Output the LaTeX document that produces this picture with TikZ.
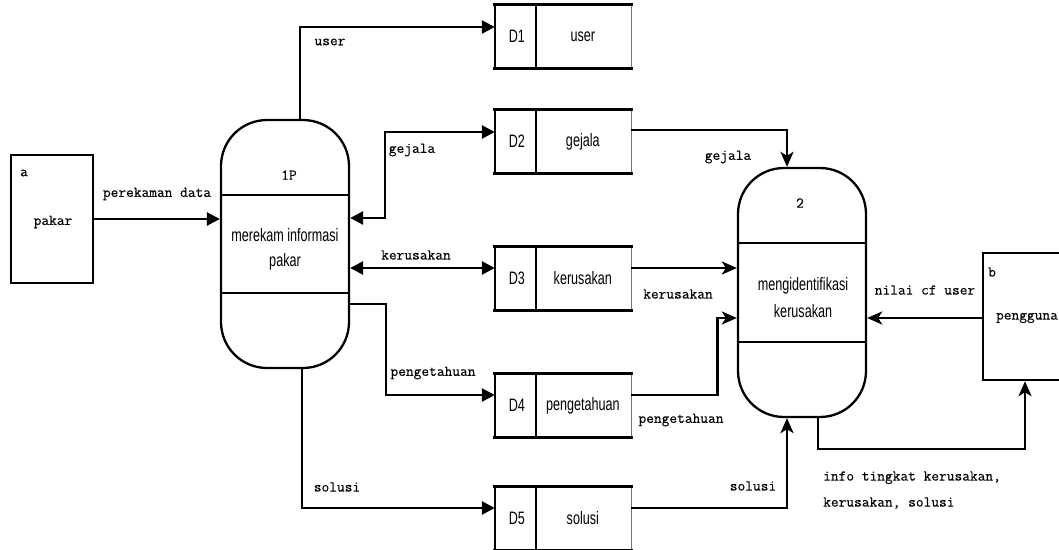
\documentclass[tikz,border=0pt]{standalone}
\usepackage{fontspec}
\setmainfont{Liberation Sans}
\newfontfamily\flowfont[FakeBold=0.3]{Latin Modern Mono}
\newfontfamily\boxfont[FakeStretch=0.7]{Liberation Sans}
\usetikzlibrary{arrows.meta,calc}

\tikzset{
  flow/.style={line width=2.6pt, draw=black},
  tri/.style={-{Triangle[length=13pt,width=13pt]}},
  tritri/.style={{Triangle[length=13pt,width=13pt]}-{Triangle[length=13pt,width=13pt]}},
  stl/.style={-{Stealth[length=15pt,width=13pt,inset=4pt]}},
  lbl/.style={font=\flowfont\fontsize{15}{26}\selectfont, inner sep=0pt},
  txt/.style={font=\boxfont\fontsize{18}{25}\selectfont, inner sep=0pt, align=center},
  proc/.style={draw, line width=2.3pt, rounded corners=46pt, minimum width=128pt, inner sep=0pt},
  entity/.style={draw, line width=2.4pt, inner sep=0pt},
  storebox/.style={draw=none, minimum width=136pt, minimum height=63pt, inner sep=0pt},
  storeedge/.style={line width=2.8pt, line cap=rect},
  storeside/.style={line width=1.8pt},
  storeback/.style={line width=0.8pt, draw=black!55},
  storesplit/.style={line width=1.4pt},
  procline/.style={line width=2.3pt},
}

% data store: name, x, y, id, title
\newcommand\dfdstore[5]{%
  \node[storebox] (#1) at (#2,#3) {};
  \draw[storeback] (#1.north east) -- (#1.south east);
  \draw[storeside] (#1.north west) -- (#1.south west);
  \draw[storeedge] (#1.north west) -- (#1.north east);
  \draw[storeedge] (#1.south west) -- (#1.south east);
  \draw[storesplit] ($(#1.north west)+(41,0)$) -- ($(#1.south west)+(41,0)$);
  \node[txt] at ($(#1.west)+(22,0)$) {#4};
  \node[txt] at ($(#1.west)+(88,0)$) {#5};
}

\begin{document}
\begin{tikzpicture}[x=1pt,y=-1pt]
\useasboundingbox (0,0) rectangle (1059,549);

% external entities
\node[entity, minimum width=82pt, minimum height=128pt] (a) at (52,219) {};
\node[lbl] at (24,173) {a};
\node[lbl] at (53,222) {pakar};

\node[entity, minimum width=88pt, minimum height=127pt] (b) at (1027,316.5) {};
\node[lbl] at (992,272) {b};
\node[lbl] at (1027,318) {pengguna};

% processes
\node[proc, minimum height=248pt] (p1) at (285,244) {};
\draw[procline] (p1.west |- 0,195) -- (p1.east |- 0,195);
\draw[procline] (p1.west |- 0,293) -- (p1.east |- 0,293);
\node[lbl] at (289,175) {1P};
\node[txt] at (285,249) {merekam informasi\\pakar};

\node[proc, minimum height=249pt] (p2) at (802,292.5) {};
\draw[procline] (p2.west |- 0,243) -- (p2.east |- 0,243);
\draw[procline] (p2.west |- 0,342) -- (p2.east |- 0,342);
\node[lbl] at (800,203) {2};
\node[txt, font=\boxfont\fontsize{18}{27}\selectfont] at (803,298) {mengidentifikasi\\kerusakan};

% data stores
\dfdstore{d1}{563}{36.5}{D1}{user}
\dfdstore{d2}{563}{141.5}{D2}{gejala}
\dfdstore{d3}{563}{278.5}{D3}{kerusakan}
\dfdstore{d4}{563}{405.5}{D4}{pengetahuan}
\dfdstore{d5}{563}{518.5}{D5}{solusi}

% flows of process 1
\draw[flow,tri] (a.east) -- (a.east -| p1.west);
\node[lbl] at (157,194) {perekaman data};

\draw[flow,tri] ([xshift=15pt]p1.north) |- ([yshift=9.5pt]d1.west);
\node[lbl] at (330,42) {user};

\draw[flow,tritri] ([yshift=26pt]p1.east) -- ++(35,0) |- ([yshift=9.5pt]d2.west);
\node[lbl] at (412,150) {gejala};

\draw[flow,tritri] ([yshift=-24pt]p1.east) -- ([yshift=10.5pt]d3.west);
\node[lbl] at (416,255) {kerusakan};

\draw[flow,tri] ([yshift=-60pt]p1.east) -- ++(36,0) |- ([yshift=10.5pt]d4.west);
\node[lbl] at (433,373) {pengetahuan};

\draw[flow,tri] ([xshift=17pt]p1.south) |- ([yshift=10.5pt]d5.west);
\node[lbl] at (337,487) {solusi};

% flows of process 2
\draw[flow,stl] ([yshift=11.5pt]d2.east) -| ([xshift=-15pt]p2.north);
\node[lbl] at (728,157) {gejala};

\draw[flow,stl] ([yshift=10.5pt]d3.east) -- ([yshift=24.5pt]p2.west);
\node[lbl] at (678,294) {kerusakan};

\draw[flow,stl] ([yshift=10.5pt]d4.east) -- ++(86,0) |- ([yshift=-25.5pt]p2.west);
\node[lbl] at (681,420) {pengetahuan};

\draw[flow,stl] ([yshift=10.5pt]d5.east) -| ([xshift=-15pt]p2.south);
\node[lbl] at (753,486) {solusi};

\draw[flow,stl] ([yshift=-1.5pt]b.west) -- ([yshift=-25.5pt]p2.east);
\node[lbl] at (925,290) {nilai cf user};

\draw[flow,stl] ([xshift=16pt]p2.south) -- ++(0,31) -| ([xshift=-2pt]b.south);
\node[lbl, anchor=west, align=left] at (823,490) {info tingkat kerusakan,\\kerusakan, solusi};
\end{tikzpicture}
\end{document}
